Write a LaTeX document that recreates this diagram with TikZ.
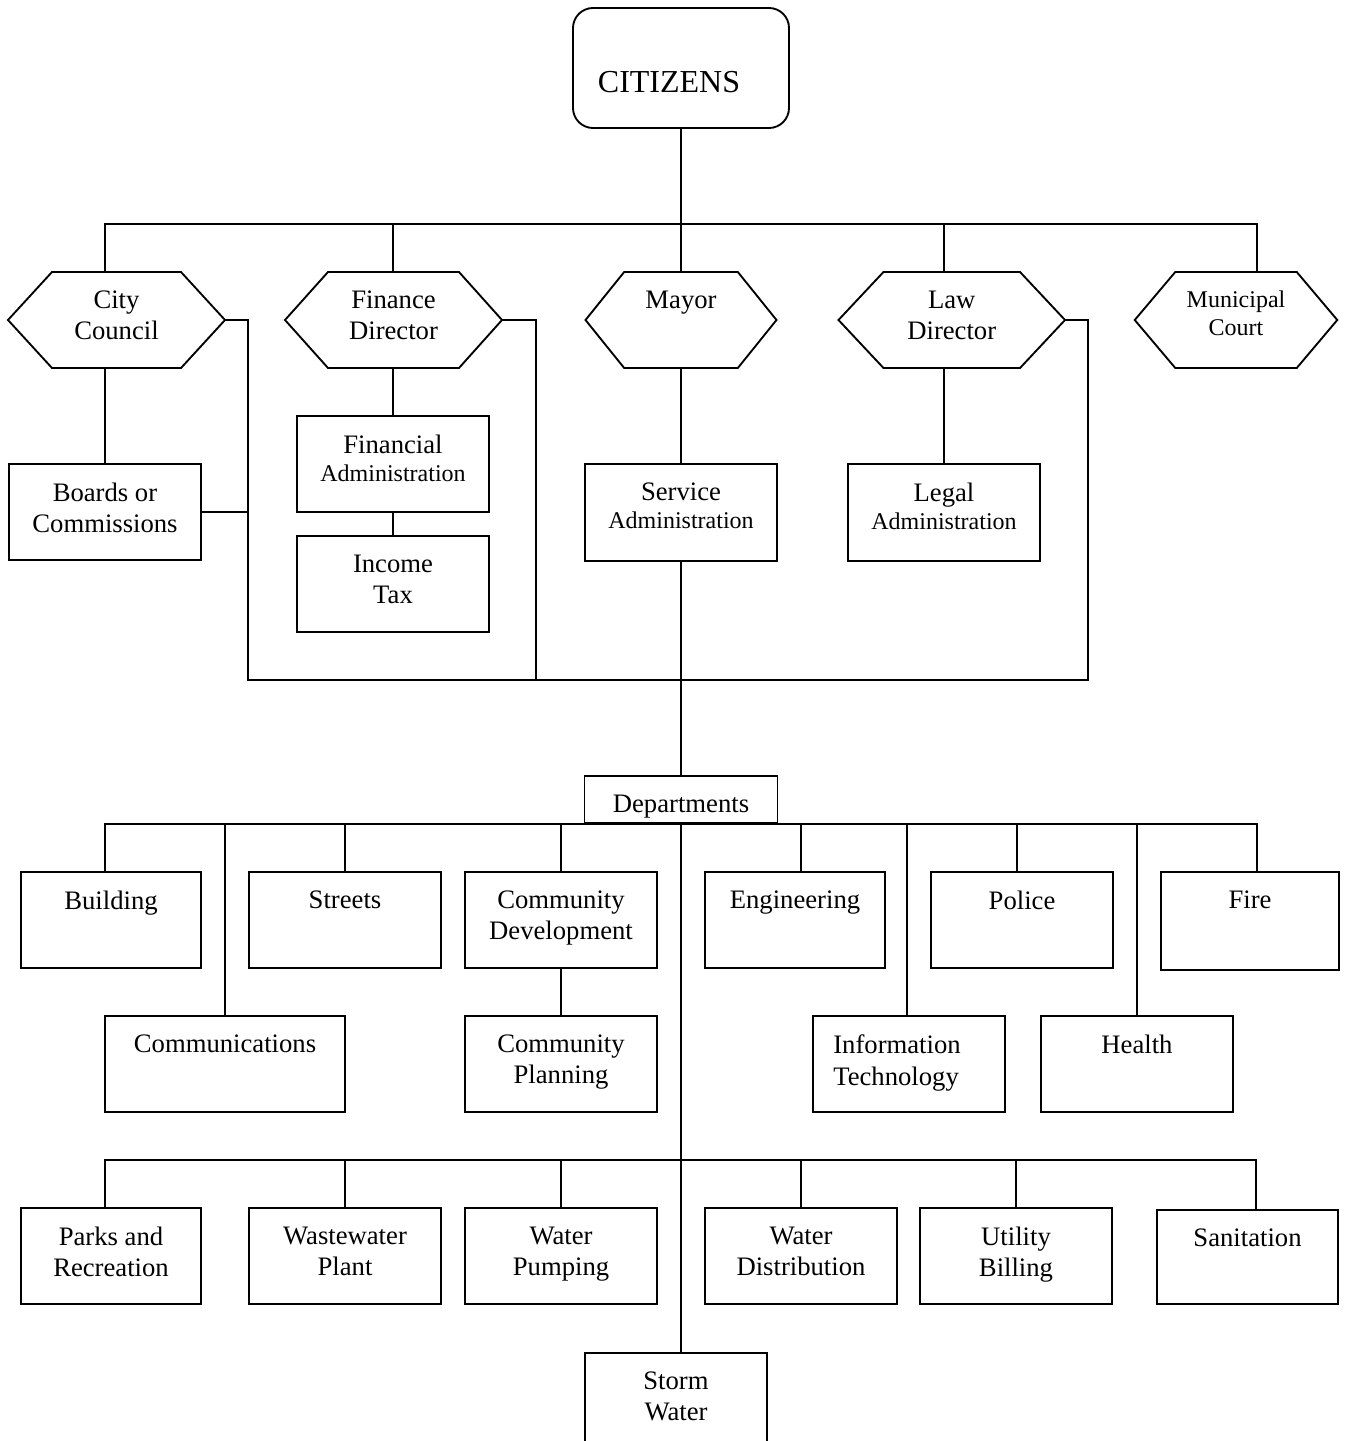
\documentclass[tikz,border=0pt]{standalone}
\usepackage{fontspec}
\setmainfont{Liberation Serif}

\newcommand{\mainfnt}{\fontsize{20}{23.5}\selectfont}
\newcommand{\smallfnt}{\fontsize{18}{21}\selectfont}
\newcommand{\bigfnt}{\fontsize{24}{28}\selectfont}

% outline of a six-sided office box round a named node
\newcommand{\hexframe}[2]{%
  \draw (#1.west) -- ([xshift=#2]#1.north west) -- ([xshift=-#2]#1.north east)
    -- (#1.east) -- ([xshift=-#2]#1.south east) -- ([xshift=#2]#1.south west) -- cycle;}

\tikzset{
  cit/.style={draw, rounded corners=15pt, minimum width=162pt, minimum height=90pt, inner sep=0pt, outer sep=0pt},
  box/.style={draw, rectangle, minimum width=144pt, minimum height=72pt, inner sep=0pt, outer sep=0pt},
  hexa/.style={rectangle, minimum height=72pt, inner sep=0pt, outer sep=0pt},
  lbl/.style={anchor=north, inner sep=0pt, yshift=-13.5pt, align=center, font=\mainfnt},
  txt/.style={label={[lbl]north:{#1}}},
}

\begin{document}
\begin{tikzpicture}[x=0.75pt,y=0.75pt,yscale=-1,xscale=1,line width=1.4pt]
	\useasboundingbox (0,0) rectangle (1346,1441);
	\clip (0,0) rectangle (1346,1441);

	% Text Node
	\node [cit, label={[lbl, font=\bigfnt, xshift=-9pt, yshift=-33pt]north:CITIZENS}] (cit) at (681,68) {};

	% Text Node
	\node [hexa, minimum width=162.75pt, txt={City\\Council}] (cc) at (116.5,320) {};
	\hexframe{cc}{33pt}
	% Text Node
	\node [hexa, minimum width=162.75pt, txt={Finance\\Director}] (fd) at (393.5,320) {};
	\hexframe{fd}{32.25pt}
	% Text Node
	\node [hexa, minimum width=143.25pt, txt={Mayor}] (my) at (681,320) {};
	\hexframe{my}{29pt}
	% Text Node
	\node [hexa, minimum width=169.9pt, txt={Law\\Director}] (ld) at (951.75,320) {};
	\hexframe{ld}{33.75pt}
	% Text Node
	\node [hexa, minimum width=151.9pt, label={[lbl, font=\smallfnt]north:{Municipal\\Court}}] (mc) at (1236,320) {};
	\hexframe{mc}{30.4pt}

	% Text Node
	\node [box, minimum width=144pt, minimum height=72pt, txt={Boards or\\Commissions}] (brd) at (105,512) {};
	% Text Node
	\node [box, txt={Financial\\[-2.5pt]{\smallfnt Administration}}] (fa) at (393,464) {};
	% Text Node
	\node [box, txt={Income\\Tax}] (tax) at (393,584) {};
	% Text Node
	\node [box, minimum height=72.75pt, txt={Service\\[-2.5pt]{\smallfnt Administration}}] (sa) at (681,512.5) {};
	% Text Node
	\node [box, minimum height=72.75pt, txt={Legal\\[-2.5pt]{\smallfnt Administration}}] (la) at (944,512.5) {};
	% Text Node
	\node [box, minimum width=144.75pt, minimum height=35.25pt, txt={Departments}] (dep) at (681,799.5) {};

	% Text Node
	\node [box, minimum width=135pt, txt={Building}] (bld) at (111,920) {};
	\node [box, txt={Streets}] (str) at (345,920) {};
	\node [box, txt={Community\\Development}] (cd) at (561,920) {};
	\node [box, minimum width=135pt, txt={Engineering}] (eng) at (795,920) {};
	\node [box, minimum width=136.5pt, txt={Police}] (pol) at (1022,920) {};
	\node [box, minimum width=133.5pt, minimum height=73.5pt, txt={Fire}] (fire) at (1250,921) {};
	% Text Node
	\node [box, minimum width=180pt, txt={Communications}] (com) at (225,1064) {};
	\node [box, txt={Community\\Planning}] (cp) at (561,1064) {};
	\node [box, label={[lbl, align=left, xshift=-9pt]north:{Information\\Technology}}] (itc) at (909,1064) {};
	\node [box, txt={Health}] (hlt) at (1137,1064) {};
	% Text Node
	\node [box, minimum width=135pt, txt={Parks and\\Recreation}] (prk) at (111,1256) {};
	\node [box, txt={Wastewater\\Plant}] (ww) at (345,1256) {};
	\node [box, txt={Water\\Pumping}] (wp) at (561,1256) {};
	\node [box, txt={Water\\Distribution}] (wd) at (801,1256) {};
	\node [box, txt={Utility\\Billing}] (ub) at (1016,1256) {};
	\node [box, minimum width=135.75pt, minimum height=70.5pt, txt={Sanitation}] (san) at (1247.5,1257) {};
	% Text Node
	\node [box, minimum width=136.5pt, minimum height=90pt, txt={Storm\\Water}] (sw) at (676,1413) {};

	\coordinate (b1) at (681,224);
	\coordinate (j1) at (248,680);
	\coordinate (j2) at (536,680);
	\coordinate (j3) at (1088,680);
	\coordinate (b3) at (681,824);
	\coordinate (b4) at (681,1160);

	% Connection
	\draw (cit) -- (b1);
	\draw (brd |- cc.north) |- (b1);
	\draw (fa |- fd.north) |- (b1);
	\draw (my.north) -- (b1);
	\draw (la |- ld.north) |- (b1);
	\draw ([xshift=15.75pt]mc.north) |- (b1);
	% Connection
	\draw (brd |- cc.south) -- (brd);
	\draw (fa |- fd.south) -- (fa);
	\draw (fa) -- (tax);
	\draw (my) -- (sa);
	\draw (la |- ld.south) -- (la);
	% Connection
	\draw (cc.east) -| (j1) -- (j3) |- (ld.east);
	\draw (fd.east) -| (j2);
	\draw (brd.east) -- (brd.east -| j1);
	\draw (sa) -- (dep);
	% Connection
	\draw (dep.south) -- (dep.south |- sw.north);
	\foreach \n/\dx in {bld/-6, str/0, cd/0, eng/6, pol/-5, fire/7, com/0, itc/-2, hlt/0}
		\draw ([xshift=\dx*0.75pt]\n.north) |- (b3);
	\draw (cd) -- (cp);
	\foreach \n/\dx in {prk/-6, ww/0, wp/0, wd/0, ub/0, san/8.5}
		\draw ([xshift=\dx*0.75pt]\n.north) |- (b4);

\end{tikzpicture}
\end{document}
